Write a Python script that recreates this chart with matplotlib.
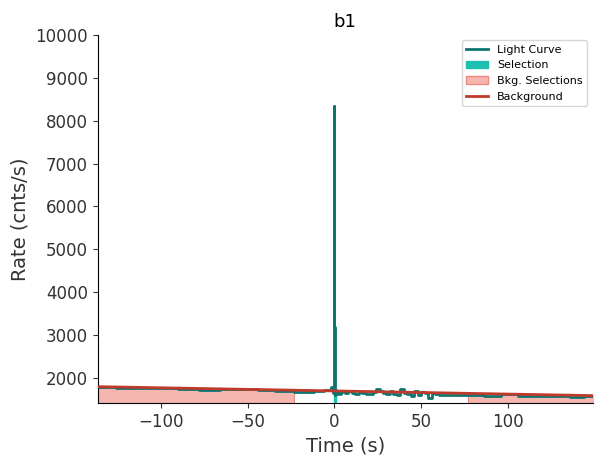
import matplotlib
matplotlib.use("Agg")
import matplotlib.pyplot as plt
import numpy as np

# bin edges (s) and rates (cnts/s)
edges = [-137, -126, -112, -100, -90, -78, -66, -55, -44, -34, -23, -12, -6, -4, -2, -1, -0.5, 0, 0.3, 0.6, 1.0, 2, 3, 4, 5, 6, 8, 10, 12, 14, 16, 18, 20, 22, 24, 26, 28, 30, 32, 34, 36, 38, 40, 42, 44, 46, 48, 50, 52, 54, 56, 58, 60, 64, 70, 77, 86, 96, 106, 116, 126, 136, 144, 150]
rates = [1790, 1770, 1760, 1770, 1740, 1730, 1740, 1750, 1720, 1700, 1680, 1700, 1730, 1720, 1780, 1660, 8350, 3200, 1600, 1720, 1640, 1700, 1620, 1690, 1680, 1650, 1710, 1660, 1620, 1680, 1660, 1640, 1620, 1680, 1740, 1690, 1660, 1620, 1700, 1640, 1600, 1750, 1660, 1630, 1580, 1690, 1600, 1670, 1650, 1530, 1660, 1640, 1600, 1600, 1600, 1610, 1580, 1640, 1590, 1590, 1580, 1570, 1590]
bkg_sel = [(-137, -23), (77, 150)]
sel = (-0.5, 1.0)
bkg_line_x = [-137, 150]
bkg_line_y = [1800, 1590]

fig, ax = plt.subplots(figsize=(6.02, 4.65), dpi=100)
fig.subplots_adjust(left=0.162, right=0.985, top=0.925, bottom=0.133)
e = np.array(edges); r = np.array(rates)
rr = np.append(r, r[-1])
for lo, hi in bkg_sel:
    m = (e >= lo) & (e <= hi)
    ax.fill_between(e[m], 0, rr[m], step="post", color="#f4b6ae", edgecolor="#f08a80", lw=0.8, zorder=1)
m = (e >= sel[0]) & (e <= sel[1])
ax.fill_between(e[m], 0, rr[m], step="post", color="#1fbfb0", zorder=1)
ax.step(e, rr, where="post", color="#0d7570", lw=2, label="Light Curve", zorder=2)
ax.fill_between([], [], color="#1fbfb0", label="Selection")
ax.fill_between([], [], color="#f4b6ae", edgecolor="#f08a80", label="Bkg. Selections")
ax.plot(bkg_line_x, bkg_line_y, color="#c0392b", lw=2, label="Background", zorder=3)
ax.set_xlim(-136.5, 149)
ax.set_ylim(1415, 10000)
ax.set_title("b1", fontsize=13)
ax.set_xlabel("Time (s)", fontsize=14, color="#333333")
ax.set_ylabel("Rate (cnts/s)", fontsize=14, color="#333333")
ax.tick_params(labelsize=12, colors="#333333")
for s in ["top", "right"]:
    ax.spines[s].set_visible(False)
ax.legend(fontsize=8, loc="upper right")
fig.savefig("out.png")
